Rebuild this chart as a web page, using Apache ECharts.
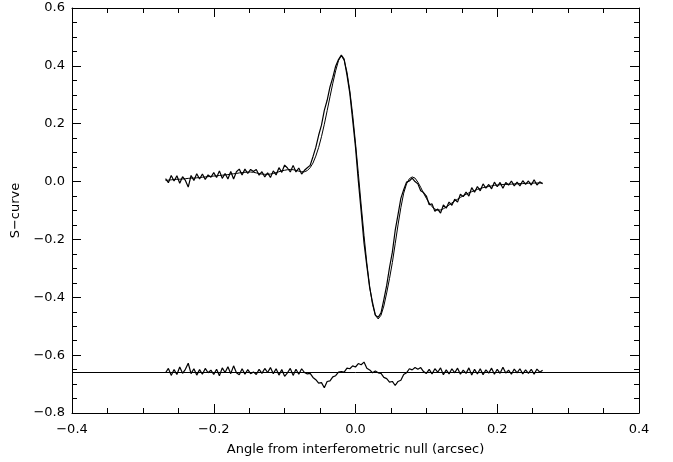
<!DOCTYPE html>
<html>
<head>
<meta charset="utf-8">
<script src="https://cdn.jsdelivr.net/npm/echarts@6/dist/echarts.min.js"></script>
<style>
html,body{margin:0;padding:0;background:#fff;}
#chart{width:673px;height:462px;}
</style>
</head>
<body>
<div id="chart"></div>
<script>
// Angle from interferometric null (arcsec)
var angle = [-0.268,-0.264,-0.260,-0.256,-0.252,-0.248,-0.244,-0.240,-0.236,-0.232,
-0.228,-0.224,-0.220,-0.216,-0.212,-0.208,-0.204,-0.200,-0.196,-0.192,
-0.188,-0.184,-0.180,-0.176,-0.172,-0.168,-0.164,-0.160,-0.156,-0.152,
-0.148,-0.144,-0.140,-0.136,-0.132,-0.128,-0.124,-0.120,-0.116,-0.112,
-0.108,-0.104,-0.100,-0.096,-0.092,-0.088,-0.084,-0.080,-0.076,-0.072,
-0.068,-0.064,-0.060,-0.056,-0.052,-0.048,-0.044,-0.040,-0.036,-0.032,
-0.028,-0.024,-0.020,-0.016,-0.012,-0.008,-0.004,0.000,0.004,0.008,
0.012,0.016,0.020,0.024,0.028,0.032,0.036,0.040,0.044,0.048,
0.052,0.056,0.060,0.064,0.068,0.072,0.076,0.080,0.084,0.088,
0.092,0.096,0.100,0.104,0.108,0.112,0.116,0.120,0.124,0.128,
0.132,0.136,0.140,0.144,0.148,0.152,0.156,0.160,0.164,0.168,
0.172,0.176,0.180,0.184,0.188,0.192,0.196,0.200,0.204,0.208,
0.212,0.216,0.220,0.224,0.228,0.232,0.236,0.240,0.244,0.248,
0.252,0.256,0.260,0.264];

// measured S-curve (noisy)
var measured = [0.010,-0.004,0.021,0.002,0.020,-0.006,0.017,0.004,-0.019,0.021,
0.004,0.027,0.009,0.026,0.007,0.023,0.015,0.031,0.014,0.037,
0.011,0.028,0.009,0.035,0.009,0.034,0.043,0.023,0.043,0.028,
0.042,0.035,0.042,0.022,0.034,0.016,0.030,0.014,0.037,0.023,
0.048,0.032,0.057,0.047,0.033,0.056,0.033,0.047,0.026,0.039,
0.048,0.056,0.086,0.118,0.160,0.195,0.246,0.281,0.327,0.360,
0.399,0.422,0.437,0.423,0.368,0.305,0.213,0.119,0.002,-0.103,
-0.212,-0.292,-0.367,-0.418,-0.462,-0.469,-0.454,-0.408,-0.359,-0.297,
-0.244,-0.169,-0.114,-0.058,-0.028,-0.002,0.002,0.012,0.000,-0.008,
-0.032,-0.038,-0.050,-0.080,-0.077,-0.103,-0.095,-0.109,-0.081,-0.092,
-0.071,-0.082,-0.061,-0.071,-0.044,-0.052,-0.036,-0.050,-0.021,-0.037,
-0.017,-0.032,-0.008,-0.023,-0.010,-0.025,-0.002,-0.018,-0.003,-0.023,
-0.003,-0.012,0.002,-0.015,-0.002,-0.015,0.003,-0.010,0.002,-0.012,
0.006,-0.012,-0.001,-0.008];

// model S-curve (smooth fit)
var model = [0.004,0.005,0.006,0.007,0.008,0.008,0.009,0.010,0.011,0.012,
0.012,0.013,0.014,0.015,0.016,0.017,0.018,0.019,0.020,0.021,
0.022,0.023,0.024,0.026,0.027,0.028,0.030,0.031,0.032,0.033,
0.033,0.032,0.030,0.028,0.026,0.025,0.025,0.026,0.028,0.031,
0.034,0.037,0.039,0.041,0.042,0.041,0.039,0.036,0.034,0.034,
0.038,0.048,0.064,0.088,0.118,0.155,0.198,0.245,0.293,0.340,
0.383,0.418,0.435,0.419,0.378,0.313,0.231,0.133,0.028,-0.081,
-0.186,-0.282,-0.363,-0.424,-0.462,-0.475,-0.462,-0.430,-0.385,-0.335,
-0.280,-0.215,-0.150,-0.090,-0.040,-0.008,0.010,0.016,0.012,-0.002,
-0.020,-0.040,-0.058,-0.074,-0.087,-0.095,-0.099,-0.098,-0.094,-0.088,
-0.081,-0.074,-0.067,-0.061,-0.055,-0.049,-0.044,-0.039,-0.035,-0.031,
-0.027,-0.024,-0.021,-0.019,-0.017,-0.015,-0.013,-0.012,-0.011,-0.010,
-0.010,-0.009,-0.009,-0.008,-0.008,-0.007,-0.007,-0.006,-0.006,-0.006,
-0.005,-0.005,-0.005,-0.005];

// residuals, offset to the reference level
var residual = [-0.661,-0.646,-0.670,-0.650,-0.667,-0.641,-0.663,-0.649,-0.628,-0.664,
-0.647,-0.669,-0.650,-0.666,-0.646,-0.661,-0.652,-0.667,-0.649,-0.671,
-0.644,-0.660,-0.640,-0.664,-0.637,-0.661,-0.668,-0.647,-0.666,-0.650,
-0.664,-0.658,-0.667,-0.649,-0.663,-0.646,-0.660,-0.643,-0.664,-0.647,
-0.669,-0.650,-0.673,-0.661,-0.646,-0.670,-0.649,-0.666,-0.647,-0.660,
-0.665,-0.663,-0.677,-0.685,-0.697,-0.695,-0.713,-0.691,-0.689,-0.675,
-0.671,-0.659,-0.657,-0.659,-0.645,-0.647,-0.637,-0.641,-0.629,-0.633,
-0.624,-0.645,-0.651,-0.661,-0.655,-0.661,-0.663,-0.677,-0.681,-0.693,
-0.691,-0.705,-0.691,-0.687,-0.667,-0.661,-0.647,-0.651,-0.643,-0.649,
-0.643,-0.657,-0.663,-0.649,-0.665,-0.647,-0.659,-0.644,-0.668,-0.651,
-0.665,-0.647,-0.661,-0.645,-0.666,-0.652,-0.663,-0.644,-0.669,-0.649,
-0.665,-0.647,-0.668,-0.651,-0.662,-0.645,-0.666,-0.649,-0.663,-0.642,
-0.662,-0.652,-0.666,-0.648,-0.661,-0.647,-0.665,-0.651,-0.663,-0.649,
-0.666,-0.648,-0.659,-0.652];

var residualLevel = -0.655;
var xTicks = [-0.4, 0.4, 0.2];   // min, max, interval
var yTicks = [-0.8, 0.6, 0.2];

function pairs(xs, ys){ var out=[]; for(var i=0;i<xs.length;i++) out.push([xs[i], ys[i]]); return out; }
function fmt(v){ return v.toFixed(1).replace('-', '\u2212'); }

var font = 'DejaVu Sans';
var lineStyle = {color:'#000', width:1};
function xAxisCfg(pos, show){
  return {
    type:'value', position:pos, min:xTicks[0], max:xTicks[1], interval:xTicks[2],
    axisLine:{show:true, onZero:false, lineStyle:lineStyle},
    axisTick:{show:true, inside:true, length:9, lineStyle:lineStyle},
    minorTick:{show:true, splitNumber:4, length:5, lineStyle:lineStyle},
    splitLine:{show:false},
    axisLabel:{show:show, formatter:fmt, color:'#000', fontFamily:font, fontSize:13, margin:10},
    name: show ? 'Angle from interferometric null (arcsec)' : '',
    nameLocation:'middle', nameGap:30,
    nameTextStyle:{color:'#000', fontFamily:font, fontSize:13}
  };
}
function yAxisCfg(pos, show){
  return {
    type:'value', position:pos, min:yTicks[0], max:yTicks[1], interval:yTicks[2],
    axisLine:{show:true, onZero:false, lineStyle:lineStyle},
    axisTick:{show:true, inside:true, length:9, lineStyle:lineStyle},
    minorTick:{show:true, splitNumber:4, length:5, lineStyle:lineStyle},
    splitLine:{show:false},
    axisLabel:{show:show, formatter:fmt, color:'#000', fontFamily:font, fontSize:13, margin:7},
    name: show ? 'S\u2212curve' : '',
    nameLocation:'middle', nameGap:48,
    nameTextStyle:{color:'#000', fontFamily:font, fontSize:13}
  };
}

var chart = echarts.init(document.getElementById('chart'), null, {renderer:'canvas'});
chart.setOption({
  animation:false,
  backgroundColor:'#fff',
  grid:{left:72, right:34, top:8, bottom:49, containLabel:false},
  xAxis:[xAxisCfg('bottom', true), xAxisCfg('top', false)],
  yAxis:[yAxisCfg('left', true), yAxisCfg('right', false)],
  series:[
    {type:'line', data:pairs(angle, model), symbol:'none', lineStyle:{color:'#000', width:1}, silent:true},
    {type:'line', data:pairs(angle, measured), symbol:'none', lineStyle:{color:'#000', width:1.2}, silent:true},
    {type:'line', data:pairs(angle, residual), symbol:'none', lineStyle:{color:'#000', width:1.2}, silent:true,
      markLine:{silent:true, symbol:'none', label:{show:false}, lineStyle:{color:'#000', width:1, type:'solid'},
        data:[{yAxis:residualLevel}]}}
  ]
});
</script>
</body>
</html>
